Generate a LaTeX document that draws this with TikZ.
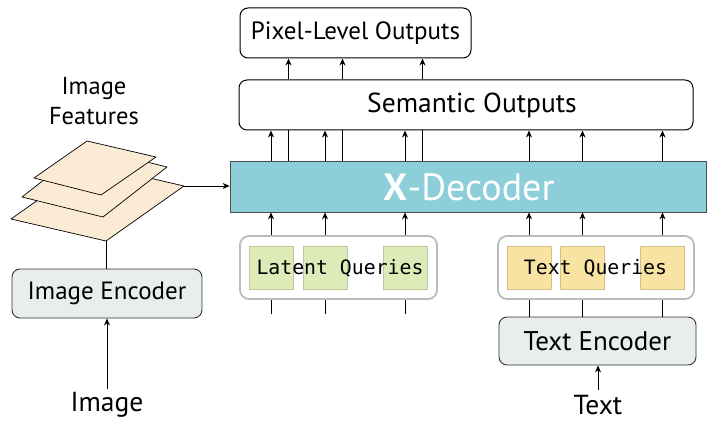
\documentclass[tikz,border=0pt]{standalone}
\usepackage{fontspec}
\setmainfont{PT Sans}
\setmonofont{DejaVu Sans Mono}
\usetikzlibrary{arrows.meta}
\definecolor{decfill}{HTML}{8DCFD8}
\definecolor{encgray}{HTML}{E8EDED}
\definecolor{qgreen}{HTML}{DDEBB8}
\definecolor{qyellow}{HTML}{F9E3A2}
\definecolor{plane}{HTML}{FBEBD5}
\definecolor{qborder}{HTML}{BBBBBB}
\begin{document}
\begin{tikzpicture}[x=1pt,y=-1pt,
  arr/.style={-{Stealth[length=7pt,width=6pt]}, line width=0.9pt},
  ln/.style={line width=0.9pt},
  outbox/.style={draw, rounded corners=8pt, line width=1pt, fill=white, inner sep=0pt},
  encbox/.style={draw=black!80, fill=encgray, rounded corners=8pt, line width=0.9pt, inner sep=0pt, font=\fontsize{27}{30}\selectfont},
  qbox/.style={draw=qborder, rounded corners=9pt, line width=1.8pt, inner sep=0pt},
  gsq/.style={fill=qgreen, draw=qgreen!85!black, line width=0.4pt, minimum width=44pt, minimum height=43pt, inner sep=0pt},
  ysq/.style={fill=qyellow, draw=qyellow!85!black, line width=0.4pt, minimum width=44pt, minimum height=43pt, inner sep=0pt},
  qtext/.style={font=\ttfamily\fontsize{19.8}{22}\selectfont, inner sep=0pt},
  lbl/.style={inner sep=0pt, font=\fontsize{27.5}{30}\selectfont}
]
\useasboundingbox (0,0) rectangle (712,425);

% output boxes
\node[outbox, minimum width=231pt, minimum height=50pt, font=\fontsize{25}{28}\selectfont] (pix) at (355.5,33) {Pixel-Level Outputs};
\node[outbox, minimum width=454pt, minimum height=50pt] (sem) at (466,105) {};
\node[inner sep=0pt, font=\fontsize{27.5}{30}\selectfont] (semtxt) at (472,105) {Semantic Outputs};

% decoder
\node[draw=black!70, fill=decfill, line width=0.8pt, minimum width=476pt, minimum height=51pt, inner sep=0pt] (dec) at (468,186.5) {};
\node[inner sep=0pt, text=white, font=\fontsize{38}{42}\selectfont] (dectxt) at (469,187) {\textbf{X}-Decoder};

% latent queries
\node[qbox, minimum width=197pt, minimum height=63pt] (lqb) at (338.5,267.5) {};
\node[gsq] (g1) at (271,267.5) {};
\node[gsq] (g2) at (325,267.5) {};
\node[gsq] (g3) at (405,267.5) {};
\node[qtext] (lqt) at (340,268) {Latent Queries};

% text queries
\node[qbox, minimum width=196pt, minimum height=63pt] (tqb) at (596,267.5) {};
\node[ysq] (y1) at (529,267.5) {};
\node[ysq] (y2) at (582.5,267.5) {};
\node[ysq] (y3) at (662.5,267.5) {};
\node[qtext] (tqt) at (595.5,268) {Text Queries};

% encoders
\node[encbox, minimum width=197pt, minimum height=48pt] (tenc) at (597.5,341) {Text Encoder};
\node[encbox, minimum width=190pt, minimum height=49pt, font=\fontsize{25}{28}\selectfont] (ienc) at (107,293.5) {Image Encoder};

% labels
\node[lbl] (img) at (107,405) {Image};
\node[lbl] (txt) at (598,405) {Text};
\node[inner sep=0pt, align=center, font=\fontsize{24.5}{30}\selectfont] (feat) at (94,101) {Image\\Features};

% feature planes
\coordinate (p3L) at (11,219); \coordinate (p3R) at (184,186);
\coordinate (p3B) at (106,241); \coordinate (p3T) at (89,164);
\coordinate (p2L) at (22,197); \coordinate (p2R) at (167,167);
\coordinate (p2B) at (103,217); \coordinate (p2T) at (86,147);
\coordinate (p1L) at (34,178); \coordinate (p1R) at (156,157);
\coordinate (p1B) at (101,195); \coordinate (p1T) at (87,141);
\draw[fill=plane, line width=0.7pt, line join=round] (p3L) -- (p3T) -- (p3R) -- (p3B) -- cycle;
\draw[fill=plane, line width=0.7pt, line join=round] (p2L) -- (p2T) -- (p2R) -- (p2B) -- cycle;
\draw[fill=plane, line width=0.7pt, line join=round] (p1L) -- (p1T) -- (p1R) -- (p1B) -- cycle;

% connectors
\draw[arr] (p3R) -- (dec.west |- p3R);
\draw[ln] (p3B) -- (ienc.north -| p3B);
\coordinate (imgs) at (107,389);
\coordinate (txts) at (598,390);
\draw[arr] (imgs) -- (imgs |- ienc.south);
\draw[arr] (txts) -- (txts |- tenc.south);

% queries to decoder
\foreach \n in {g1,g2,g3} {
  \draw[arr] (\n.center |- lqb.north) -- (\n.center |- dec.south);
  \draw[ln] (\n.center |- lqb.south) -- ++(0,14);
}
\foreach \n in {y1,y2,y3} {
  \draw[arr] (\n.center |- tqb.north) -- (\n.center |- dec.south);
  \draw[ln] (\n.center |- tqb.south) -- (\n.center |- tenc.north);
  \draw[arr] (\n.center |- dec.north) -- (\n.center |- sem.south);
}
% decoder to semantic / pixel
\foreach \n in {g1,g2,g3} {
  \draw[arr] (\n.center |- dec.north) -- (\n.center |- sem.south);
  \draw[ln] ([xshift=17.5pt]\n.center |- dec.north) -- ([xshift=17.5pt]\n.center |- sem.south);
  \draw[arr] ([xshift=17.5pt]\n.center |- sem.north) -- ([xshift=17.5pt]\n.center |- pix.south);
}
\end{tikzpicture}
\end{document}
